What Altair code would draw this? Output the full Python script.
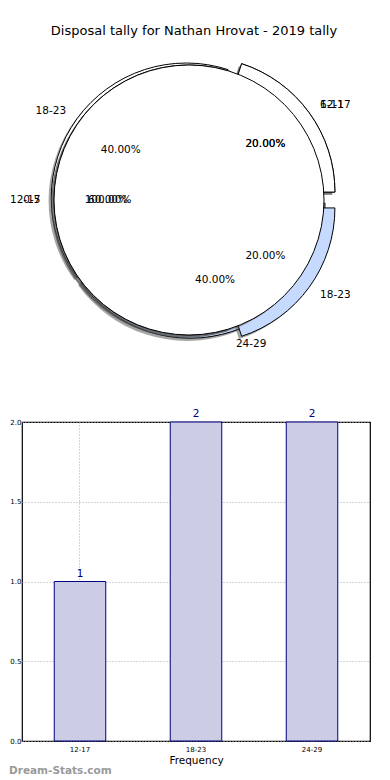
import math
import altair as alt
import pandas as pd

TITLE = "Disposal tally for Nathan Hrovat - 2019 tally"
AGE_GROUPS = ["12-17", "18-23", "24-29"]
FREQUENCY = [1, 2, 2]
Y_TICKS = [0, 0.5, 1.0, 1.5, 2.0]
X_TITLE = "Frequency"
WATERMARK = "Dream-Stats.com"

# the original draws three pies on top of each other, in this order
PIE_A_LABELS = ["12-17", "18-23", "24-29"]
PIE_A_VALUES = [1, 2, 2]
PIE_A_EXPLODE = [0.1, 0.025, 0.025]
PIE_A_COLORS = ["white", "white", "#c6d9ff"]

PIE_B_LABELS = ["6-11", "0-5", "18-23"]
PIE_B_VALUES = [1, 3, 1]
PIE_B_EXPLODE = [0.1, 0.0, 0.1]
PIE_B_COLORS = ["white", "white", "#c6d9ff"]

PIE_C_LABELS = ["12-17"]
PIE_C_VALUES = [1]
PIE_C_EXPLODE = [0.0]
PIE_C_COLORS = ["white"]

# layout (panel pixels)
X0 = 23          # page x of the panels' left edge
R = 135          # pie radius
CX, CY = 190 - X0, 199 - 8
W = 348
TOP_H = 403
BOT_H = 319
FONT = "DejaVu Sans"

THETA = alt.Scale(domain=[0, 1], range=[2.5 * math.pi, 0.5 * math.pi])


def pie_frame(labels, values, explode, colors):
    total = sum(values)
    rows = []
    cum = 0
    for lab, v, e, c in zip(labels, values, explode, colors):
        t0 = cum / total
        cum += v
        t1 = cum / total
        tm = (t0 + t1) / 2
        ang = 2 * math.pi * tm
        ox = e * R * math.cos(ang)
        oy = -e * R * math.sin(ang)
        rows.append(dict(label=lab, t0=t0, t1=t1, tm=tm, color=c,
                         cx=CX + ox, cy=CY + oy,
                         sx=CX + ox - 0.02 * R, sy=CY + oy + 0.02 * R,
                         pct=f"{100 * v / total:.2f}%",
                         rl=(1.1 + e) * R, rp=(0.6 + e) * R,
                         side="L" if math.cos(ang) < -1e-9 else "R"))
    return pd.DataFrame(rows)


pies = [pie_frame(PIE_A_LABELS, PIE_A_VALUES, PIE_A_EXPLODE, PIE_A_COLORS),
        pie_frame(PIE_B_LABELS, PIE_B_VALUES, PIE_B_EXPLODE, PIE_B_COLORS),
        pie_frame(PIE_C_LABELS, PIE_C_VALUES, PIE_C_EXPLODE, PIE_C_COLORS)]

layers = []
for df in pies:
    shadow = alt.Chart(df).mark_arc(radius=R, fill="#4d4d4d", opacity=0.5).encode(
        theta=alt.Theta("t0:Q", scale=THETA, stack=None),
        theta2="t1:Q",
        x=alt.X("sx:Q", scale=None, axis=None),
        y=alt.Y("sy:Q", scale=None, axis=None),
    )
    wedge = alt.Chart(df).mark_arc(radius=R, stroke="black", strokeWidth=1).encode(
        theta=alt.Theta("t0:Q", scale=THETA, stack=None),
        theta2="t1:Q",
        x=alt.X("cx:Q", scale=None, axis=None),
        y=alt.Y("cy:Q", scale=None, axis=None),
        fill=alt.Fill("color:N", scale=None),
    )
    layers += [shadow, wedge]

all_txt = pd.concat(pies, ignore_index=True)

pct = alt.Chart(all_txt).mark_text(fontSize=10.5, align="center", baseline="middle",
                                   color="black", font=FONT).encode(
    theta=alt.Theta("tm:Q", scale=THETA, stack=None),
    radius=alt.Radius("rp:Q", scale=None),
    x=alt.value(CX), y=alt.value(CY),
    text="pct:N",
)
lab_left = alt.Chart(all_txt[all_txt.side == "L"]).mark_text(
    fontSize=10.5, align="right", baseline="middle", color="black", font=FONT).encode(
    theta=alt.Theta("tm:Q", scale=THETA, stack=None),
    radius=alt.Radius("rl:Q", scale=None),
    x=alt.value(CX), y=alt.value(CY),
    text="label:N",
)
lab_right = alt.Chart(all_txt[all_txt.side == "R"]).mark_text(
    fontSize=10.5, align="left", baseline="middle", color="black", font=FONT).encode(
    theta=alt.Theta("tm:Q", scale=THETA, stack=None),
    radius=alt.Radius("rl:Q", scale=None),
    x=alt.value(CX), y=alt.value(CY),
    text="label:N",
)
title = alt.Chart(pd.DataFrame({"t": [TITLE]})).mark_text(
    fontSize=13, align="center", baseline="middle", color="black", font=FONT).encode(
    x=alt.value(195 - X0), y=alt.value(30 - 8), text="t:N")

top = alt.layer(*layers, pct, lab_left, lab_right, title).properties(
    width=W, height=TOP_H, view=alt.ViewBackground(stroke="transparent"))

# ---- bar chart ----
bars_df = pd.DataFrame({"age": AGE_GROUPS, "freq": FREQUENCY})
xenc = alt.X("age:N", sort=AGE_GROUPS,
             scale=alt.Scale(paddingInner=0.556, paddingOuter=0.278),
             axis=alt.Axis(title=X_TITLE, labelAngle=0, labelFontSize=7, labelColor="black",
                           bandPosition=0.5, grid=True, gridDash=[1, 2], gridColor="#aaaaaa",
                           ticks=False, domain=False, labelPadding=4,
                           titleFontSize=10.5, titleFontWeight="normal", titleColor="black",
                           titlePadding=3, labelFont=FONT, titleFont=FONT))
yenc = alt.Y("freq:Q", scale=alt.Scale(domain=[0, 2], nice=False),
             axis=alt.Axis(title=None, values=Y_TICKS, format=".1f", labelFontSize=7,
                           labelColor="black", grid=True, gridDash=[1, 2],
                           gridColor="#aaaaaa", ticks=False, domain=False,
                           labelPadding=1, labelFont=FONT))
bars = alt.Chart(bars_df).mark_bar(fill="#ccccE5", stroke="#000080", strokeWidth=1).encode(
    x=xenc, y=yenc)
bar_txt = alt.Chart(bars_df).mark_text(dy=-8, fontSize=10.5, color="#000080",
                                       baseline="middle", font=FONT).encode(
    x=alt.X("age:N", sort=AGE_GROUPS), y="freq:Q", text="freq:Q")
wm = alt.Chart(pd.DataFrame({"t": [WATERMARK]})).mark_text(
    fontSize=10.5, fontWeight="bold", color="#9a9a9a", align="left", baseline="middle",
    font=FONT).encode(x=alt.value(10 - X0), y=alt.value(770 - 421), text="t:N")

bottom = alt.layer(bars, bar_txt, wm).properties(width=W, height=BOT_H)

chart = alt.vconcat(top, bottom, spacing=10, bounds="flush").properties(
    padding=0).configure(font=FONT).configure_view(stroke="black", strokeWidth=1.2)

chart.save("out.html", embed_options={"renderer": "svg", "actions": False})
